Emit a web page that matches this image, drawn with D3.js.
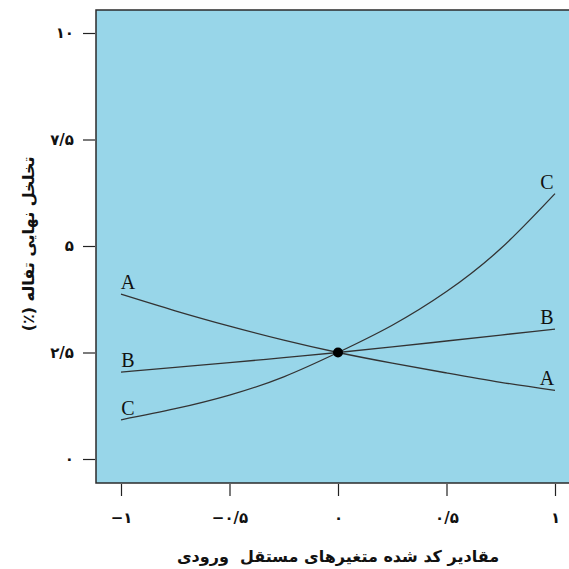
<!DOCTYPE html>
<html>

<head>
    <meta charset="utf-8">
    <style>
        body {
            margin: 0;
            background: white;
        }

        svg {
            display: block;
        }

        .tick-label {
            font-family: 'DejaVu Sans', sans-serif;
            font-weight: bold;
            font-size: 15px;
            fill: #111;
        }

        .axis-title {
            font-family: 'DejaVu Sans', sans-serif;
            font-weight: bold;
            font-size: 16px;
            fill: #111;
        }

        .series-label {
            font-family: 'Liberation Serif', 'Times New Roman', serif;
            font-size: 20px;
            fill: #111;
        }
    </style>
</head>

<body>
    <svg width="569" height="569"></svg>

    <script src="https://d3js.org/d3.v7.min.js"></script>

    <script>
        // coded levels of the independent variables
        let codedX = [-1, -0.75, -0.5, -0.25, 0, 0.25, 0.5, 0.75, 1]

        // final porosity (%)
        let seriesA = [3.87, 3.48, 3.12, 2.79, 2.5, 2.25, 2.02, 1.80, 1.61]
        let seriesB = [2.04, 2.15, 2.26, 2.38, 2.5, 2.63, 2.77, 2.91, 3.05]
        let seriesC = [0.92, 1.18, 1.50, 1.93, 2.5, 3.14, 3.93, 4.94, 6.23]

        let seriesNames = ["A", "B", "C"]
        let centerPoint = [0, 2.5]

        let xTicks = [-1, -0.5, 0, 0.5, 1]
        let xTickLabels = ["\u2212\u06F1", "\u2212\u06F0/\u06F5", "\u06F0", "\u06F0/\u06F5", "\u06F1"]
        let yTicks = [0, 2.5, 5, 7.5, 10]
        let yTickLabels = ["\u06F0", "\u06F2/\u06F5", "\u06F5", "\u06F7/\u06F5", "\u06F1\u06F0"]

        let xTitle = "مقادیر کد شده متغیرهای مستقل  ورودی"
        let yTitle = "تخلخل نهایی تفاله (٪)"

        let svg = d3.select("svg")

        let x = d3.scaleLinear()
            .domain([-1, 1])
            .range([121, 555])

        let y = d3.scaleLinear()
            .domain([0, 10])
            .range([459, 33])

        // plot region, runs off the right edge like the original
        let box = { left: 96, top: 10, right: 581, bottom: 483 }

        svg.append("rect")
            .attr("x", box.left)
            .attr("y", box.top)
            .attr("width", box.right - box.left)
            .attr("height", box.bottom - box.top)
            .style("fill", "#98d6e9")
            .style("stroke", "#2b2b2b")
            .style("stroke-width", 1.5)

        // x axis: ticks hang below the box
        let xAxis = svg.append("g")
            .attr("transform", "translate(0," + (box.bottom + 1) + ")")
            .call(d3.axisBottom(x).tickValues(xTicks).tickSize(12).tickFormat((d, i) => xTickLabels[i]))
        xAxis.select(".domain").remove()
        xAxis.selectAll("line").style("stroke", "#222").style("stroke-width", 1.2)
        xAxis.selectAll("text")
            .attr("class", "tick-label")
            .attr("y", 28)
            .attr("direction", "ltr")

        // y axis
        let yAxis = svg.append("g")
            .attr("transform", "translate(" + (box.left - 1) + ",0)")
            .call(d3.axisLeft(y).tickValues(yTicks).tickSize(12).tickFormat((d, i) => yTickLabels[i]))
        yAxis.select(".domain").remove()
        yAxis.selectAll("line").style("stroke", "#222").style("stroke-width", 1.2)
        yAxis.selectAll("text")
            .attr("class", "tick-label")
            .attr("x", -21)
            .attr("direction", "ltr")

        // axis titles
        svg.append("text")
            .attr("class", "axis-title")
            .attr("x", x(0))
            .attr("y", 562)
            .attr("text-anchor", "middle")
            .attr("direction", "rtl")
            .attr("xml:space", "preserve")
            .text(xTitle)

        svg.append("text")
            .attr("class", "axis-title")
            .attr("transform", "translate(34," + y(5.05) + ") rotate(-90)")
            .attr("text-anchor", "middle")
            .attr("direction", "rtl")
            .text(yTitle)

        // curves
        let allSeries = [seriesA, seriesB, seriesC]

        let line = d3.line()
            .x((d, i) => x(codedX[i]))
            .y(d => y(d))
            .curve(d3.curveNatural)

        svg.selectAll(".curve")
            .data(allSeries)
            .join("path")
            .attr("class", "curve")
            .attr("d", d => line(d))
            .style("fill", "none")
            .style("stroke", "#333")
            .style("stroke-width", 1.3)

        // letters at both ends of each curve
        let ends = []
        allSeries.forEach((s, i) => {
            ends.push({ name: seriesNames[i], xv: codedX[0], yv: s[0] })
            ends.push({ name: seriesNames[i], xv: codedX[codedX.length - 1], yv: s[s.length - 1] })
        })

        svg.selectAll(".series-label")
            .data(ends)
            .join("text")
            .attr("class", "series-label")
            .attr("x", d => x(d.xv) + (d.xv < 0 ? 7 : -8))
            .attr("y", d => y(d.yv) - 5)
            .attr("text-anchor", "middle")
            .text(d => d.name)

        // common center point
        svg.append("circle")
            .attr("cx", x(centerPoint[0]))
            .attr("cy", y(centerPoint[1]))
            .attr("r", 5)
            .style("fill", "#000")
    </script>
</body>

</html>
